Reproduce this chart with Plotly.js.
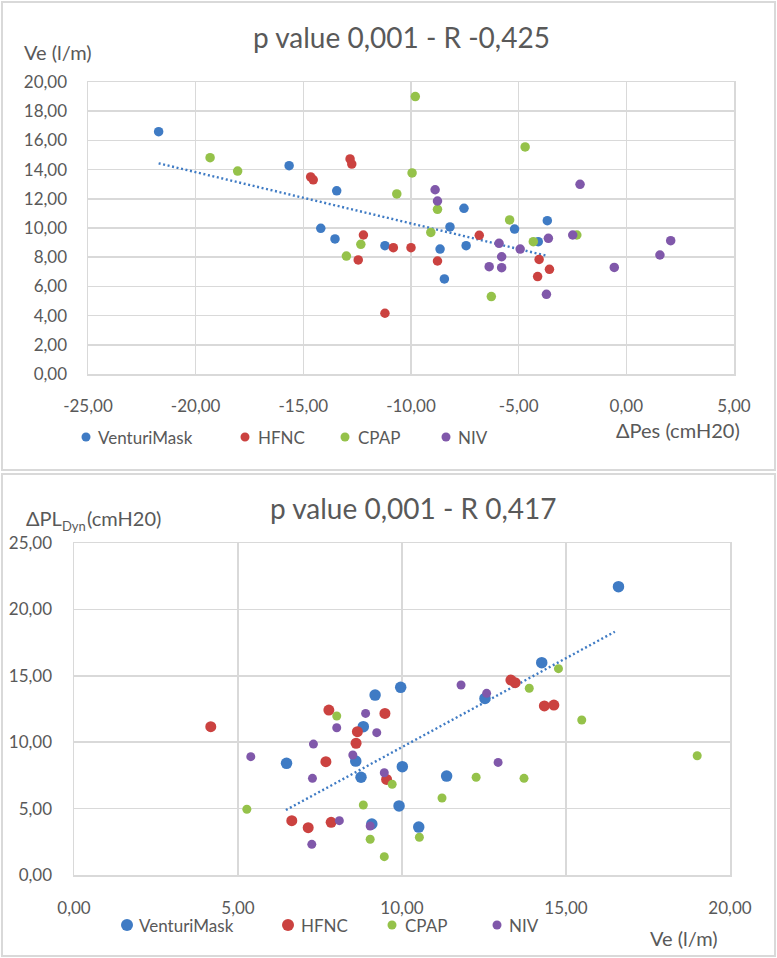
<!DOCTYPE html>
<html>
<head>
<meta charset="utf-8">
<script src="https://cdn.plot.ly/plotly-3.0.1.min.js"></script>
<style>
html,body{margin:0;padding:0;background:#fff;}
#chart{width:777px;height:958px;}
</style>
</head>
<body>
<div id="chart"></div>
<script>
// ---------- DATA ----------
const seriesNames = ['VenturiMask', 'HFNC', 'CPAP', 'NIV'];

// Top chart: x = ΔPes (cmH20), y = Ve (l/m)
const topVenturiX = [-21.72, -15.66, -13.45, -14.19, -13.53, -11.21, -7.54, -8.19, -5.19, -3.67, -8.65, -8.45, -7.44, -4.09];
const topVenturiY = [16.60, 14.27, 12.55, 9.98, 9.25, 8.79, 11.35, 10.07, 9.93, 10.50, 8.56, 6.51, 8.79, 9.06];
const topHfncX = [-14.66, -14.54, -12.83, -12.75, -12.21, -12.45, -10.82, -11.21, -10.00, -8.77, -6.83, -4.05, -3.57, -4.12];
const topHfncY = [13.50, 13.30, 14.73, 14.38, 9.52, 7.81, 8.65, 4.16, 8.65, 7.74, 9.50, 7.85, 7.17, 6.67];
const topCpapX = [-19.33, -18.05, -10.66, -12.33, -13.00, -9.80, -4.70, -9.95, -8.77, -5.42, -9.08, -2.30, -6.27, -4.32];
const topCpapY = [14.82, 13.90, 12.33, 8.88, 8.08, 19.00, 15.55, 13.77, 11.28, 10.55, 9.70, 9.52, 5.30, 9.06];
const topNivX = [-2.15, -8.88, -8.77, -2.49, 2.06, -5.91, -5.79, -6.37, -5.79, -4.93, -3.62, -3.71, -0.56, 1.56];
const topNivY = [12.99, 12.62, 11.85, 9.52, 9.13, 8.95, 8.03, 7.35, 7.28, 8.56, 9.29, 5.46, 7.30, 8.15];
const topTrendX = [-21.72, -3.70];
const topTrendY = [14.43, 8.10];

// Bottom chart: x = Ve (l/m), y = ΔPL Dyn (cmH20)
const botVenturiX = [16.60, 14.26, 9.96, 12.53, 9.18, 8.82, 6.48, 8.59, 8.75, 10.01, 9.91, 9.08, 11.36, 10.51];
const botVenturiY = [21.71, 15.99, 14.13, 13.30, 13.55, 11.17, 8.41, 8.58, 7.36, 8.16, 5.20, 3.84, 7.45, 3.61];
const botHfncX = [13.32, 13.45, 14.34, 14.63, 9.48, 4.17, 7.77, 8.64, 8.60, 7.68, 9.53, 6.64, 7.14, 7.84];
const botHfncY = [14.68, 14.48, 12.73, 12.80, 12.17, 11.17, 12.42, 10.79, 9.92, 8.53, 7.20, 4.09, 3.56, 3.97];
const botCpapX = [14.77, 13.88, 15.48, 8.01, 9.70, 5.27, 8.82, 9.03, 9.46, 12.26, 13.72, 19.00, 11.22, 10.53];
const botCpapY = [15.54, 14.06, 11.67, 11.97, 6.83, 4.95, 5.27, 2.69, 1.38, 7.36, 7.28, 8.98, 5.80, 2.84];
const botNivX = [11.80, 12.58, 8.89, 8.01, 9.23, 7.30, 5.39, 8.50, 7.27, 9.46, 8.09, 9.03, 7.25, 12.93];
const botNivY = [14.31, 13.68, 12.17, 11.09, 10.72, 9.86, 8.91, 9.04, 7.28, 7.70, 4.09, 3.69, 2.31, 8.48];
const botTrendX = [6.46, 16.49];
const botTrendY = [4.89, 18.32];

// Tick labels
const topXTicks = [-25, -20, -15, -10, -5, 0, 5];
const topXTickText = ['-25,00', '-20,00', '-15,00', '-10,00', '-5,00', '0,00', '5,00'];
const topYTicks = [0, 2, 4, 6, 8, 10, 12, 14, 16, 18, 20];
const topYTickText = ['0,00', '2,00', '4,00', '6,00', '8,00', '10,00', '12,00', '14,00', '16,00', '18,00', '20,00'];
const botXTicks = [0, 5, 10, 15, 20];
const botXTickText = ['0,00', '5,00', '10,00', '15,00', '20,00'];
const botYTicks = [0, 5, 10, 15, 20, 25];
const botYTickText = ['0,00', '5,00', '10,00', '15,00', '20,00', '25,00'];

const topTitle = 'p value 0,001 - R -0,425';
const botTitle = 'p value 0,001 - R 0,417';
const topYTitle = 'Ve (l/m)';
const topXTitle = 'ΔPes (cmH20)';
const botYTitleParts = ['ΔPL', 'Dyn', '(cmH20)'];
const botXTitle = 'Ve (l/m)';

// ---------- STYLE ----------
const W = 777, H = 958;
const X = p => p / W;
const Y = p => 1 - p / H;
const colors = ['#3F7BC4', '#CB4240', '#95C24A', '#8058AA'];
const FONT = 'Lato, "Open Sans", sans-serif';
const TXT = '#595959';
const GRID = '#d9d9d9';

const cv = document.createElement('canvas').getContext('2d');
function textWidth(t, size) {
  cv.font = size + 'px Lato';
  return cv.measureText(t).width;
}

function pts(x, y, ci, xa, ya, size) {
  return {
    type: 'scatter', mode: 'markers', x: x, y: y, xaxis: xa, yaxis: ya,
    name: seriesNames[ci], showlegend: false, hoverinfo: 'x+y',
    marker: {color: colors[ci], size: size, line: {width: 0}}
  };
}
function trend(x, y, xa, ya) {
  return {
    type: 'scatter', mode: 'lines', x: x, y: y, xaxis: xa, yaxis: ya,
    showlegend: false, hoverinfo: 'skip',
    line: {color: colors[0], width: 2.4, dash: '2px,2.6px'}
  };
}

const data = [
  trend(topTrendX, topTrendY, 'x', 'y'),
  pts(topVenturiX, topVenturiY, 0, 'x', 'y', 9.5),
  pts(topHfncX, topHfncY, 1, 'x', 'y', 9.5),
  pts(topCpapX, topCpapY, 2, 'x', 'y', 9.5),
  pts(topNivX, topNivY, 3, 'x', 'y', 9.5),
  trend(botTrendX, botTrendY, 'x2', 'y2'),
  pts(botVenturiX, botVenturiY, 0, 'x2', 'y2', 11.5),
  pts(botHfncX, botHfncY, 1, 'x2', 'y2', 11),
  pts(botCpapX, botCpapY, 2, 'x2', 'y2', 9),
  pts(botNivX, botNivY, 3, 'x2', 'y2', 9)
];

function axis(dom, range, tv, tt, anchor, standoff) {
  return {
    domain: dom, range: range, anchor: anchor,
    tickmode: 'array', tickvals: tv, ticktext: tt,
    showgrid: true, gridcolor: GRID, gridwidth: 1.5,
    zeroline: false, showline: true, mirror: true, linecolor: GRID, linewidth: 1.5,
    ticks: '', ticklabelstandoff: standoff,
    tickfont: {family: FONT, size: 17, color: TXT},
    fixedrange: true
  };
}

const ann = [];
function text(t, x, y, size, xanchor) {
  ann.push({text: t, x: X(x), y: Y(y), xref: 'paper', yref: 'paper',
    xanchor: xanchor || 'left', yanchor: 'middle', showarrow: false,
    font: {family: FONT, size: size, color: TXT}});
}
const shapes = [];
function dot(cx, cy, r, c) {
  shapes.push({type: 'circle', xref: 'paper', yref: 'paper',
    x0: X(cx - r), x1: X(cx + r), y0: Y(cy + r), y1: Y(cy - r),
    fillcolor: c, line: {width: 0}});
}
// chart frames
shapes.push({type: 'rect', xref: 'paper', yref: 'paper', x0: X(2), x1: X(775), y0: Y(470), y1: Y(2),
  line: {color: GRID, width: 2}});
shapes.push({type: 'rect', xref: 'paper', yref: 'paper', x0: X(2), x1: X(775), y0: Y(956), y1: Y(474),
  line: {color: GRID, width: 2}});

// titles
text(topTitle, 401, 37, 28, 'center');
text(botTitle, 413, 508, 28, 'center');
// axis titles
text(topYTitle, 22, 52, 20, 'left');
text(topXTitle, 742, 430, 20, 'right');
let bx = 24;
text(botYTitleParts[0], bx, 518, 20, 'left');
bx += textWidth(botYTitleParts[0], 20);
text(botYTitleParts[1], bx, 526, 13, 'left');
bx += textWidth(botYTitleParts[1], 13) + 1;
text(botYTitleParts[2], bx, 518, 20, 'left');
text(botXTitle, 720, 938, 20, 'right');

// legends (top)
const topLegX = [86, 245, 345, 446];
const topLegTextX = [96, 256, 356, 456];
for (let i = 0; i < 4; i++) {
  dot(topLegX[i], 437, 4.5, colors[i]);
  text(seriesNames[i], topLegTextX[i], 437, 17, 'left');
}
// legends (bottom)
const botLegX = [127, 288, 392, 497];
const botLegTextX = [137, 299, 403, 507];
const botLegR = [6, 6, 4.5, 4.5];
for (let i = 0; i < 4; i++) {
  dot(botLegX[i], 925, botLegR[i], colors[i]);
  text(seriesNames[i], botLegTextX[i], 925, 17, 'left');
}

const layout = {
  width: W, height: H,
  margin: {l: 0, r: 0, t: 0, b: 0, pad: 0},
  paper_bgcolor: '#ffffff', plot_bgcolor: '#ffffff',
  showlegend: false,
  font: {family: FONT, color: TXT},
  xaxis: axis([X(88), X(734)], [-25, 5], topXTicks, topXTickText, 'y', 16),
  yaxis: axis([Y(374), Y(82)], [0, 20], topYTicks, topYTickText, 'x', 16),
  xaxis2: axis([X(74), X(730)], [0, 20], botXTicks, botXTickText, 'y2', 17),
  yaxis2: axis([Y(875), Y(543)], [0, 25], botYTicks, botYTickText, 'x2', 17),
  annotations: ann,
  shapes: shapes
};

Plotly.newPlot('chart', data, layout, {displayModeBar: false, staticPlot: true});
</script>
</body>
</html>
